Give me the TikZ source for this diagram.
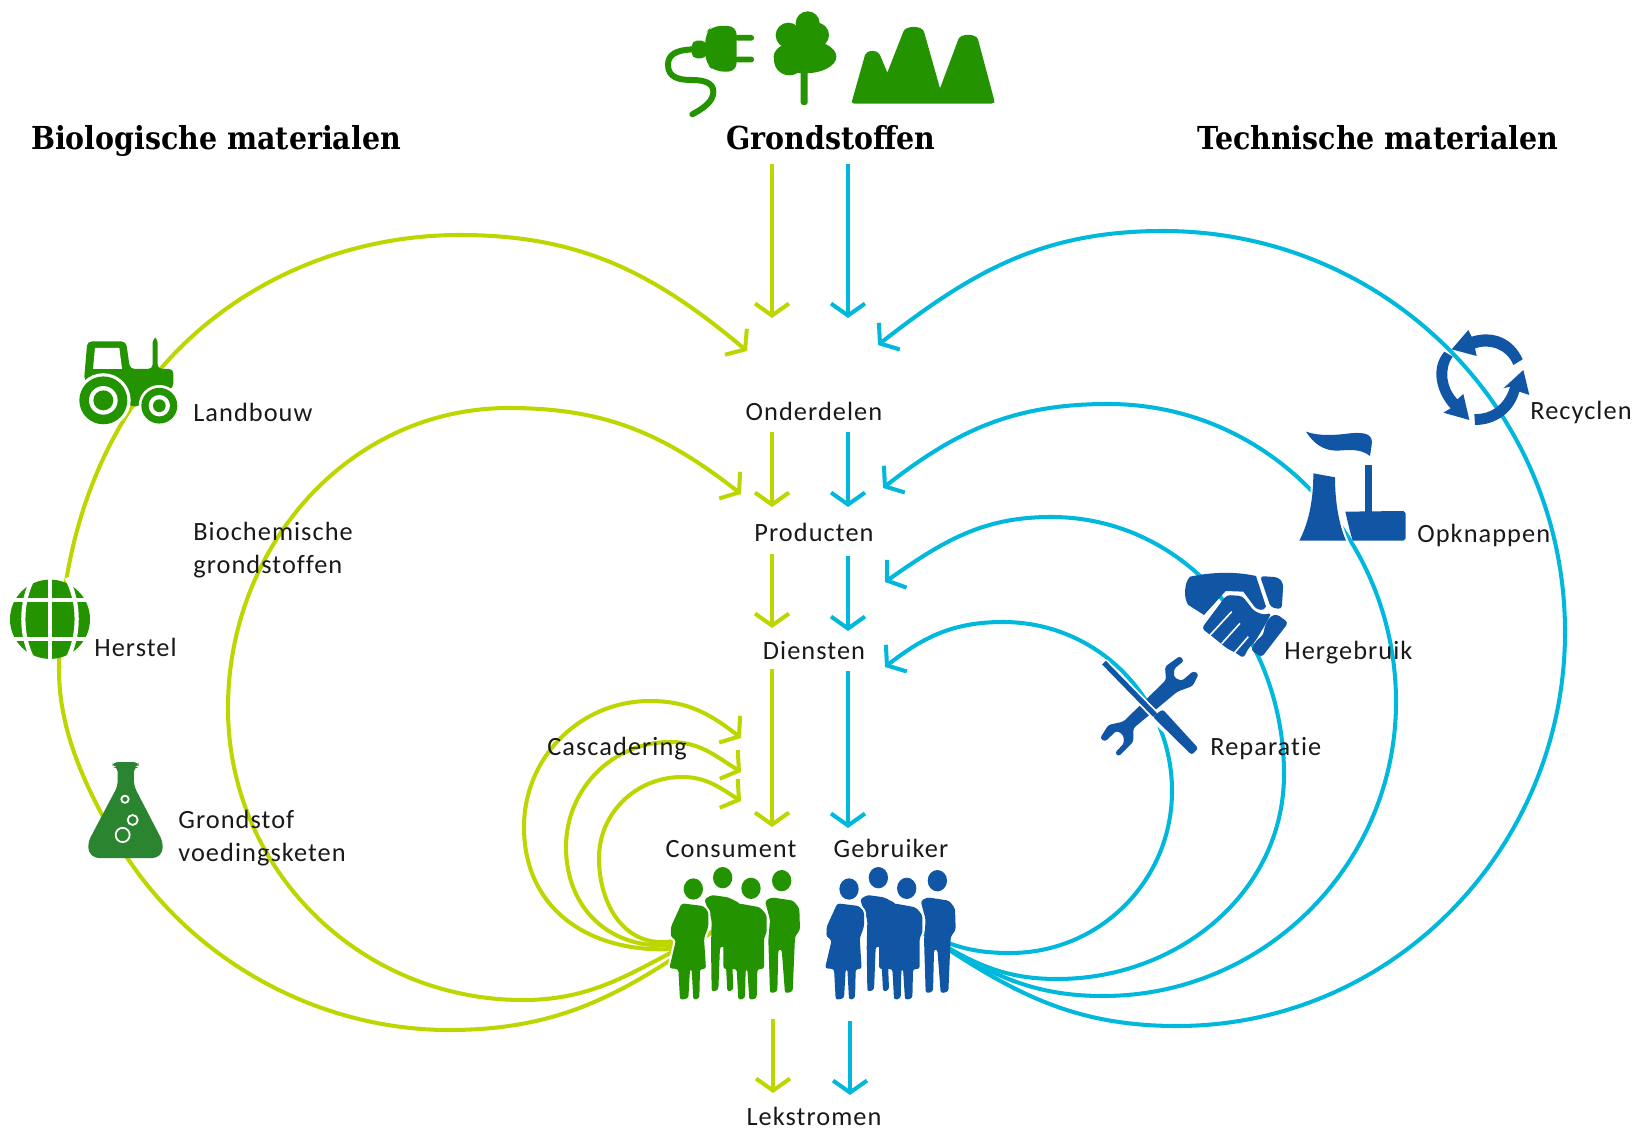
\documentclass[tikz,border=0pt]{standalone}
\usepackage{fontspec}
\usepackage{xcolor}
\usepackage{tikz}
\newfontfamily\labelfont{Carlito}[LetterSpace=4,Ligatures=NoCommon]
\newfontfamily\headfont{DejaVu Serif Condensed}
\definecolor{BioLine}{rgb}{0.74,0.84,0}
\definecolor{TechLine}{rgb}{0,0.72,0.86}
\definecolor{IconGreen}{rgb}{0.137,0.576,0}
\definecolor{IconBlue}{rgb}{0.067,0.333,0.647}
\definecolor{FlaskGreen}{rgb}{0.17,0.52,0.19}
\usetikzlibrary{arrows.meta}
\tikzset{
  flow/.style={line width=2.3pt,-{Straight Barb[length=6.8pt,width=19.3pt]}},
  bio/.style={flow,BioLine},
  tech/.style={flow,TechLine},
  title/.style={font=\headfont\bfseries\fontsize{18}{22}\selectfont,inner sep=0pt,anchor=base},
  lbl/.style={font=\labelfont\fontsize{15}{18.7}\selectfont,text=black!90,inner sep=0pt,align=left,anchor=base},
  lblw/.style={lbl,anchor=base west},
  halo/.style={preaction={draw=white,line width=2.4pt}},
}

\begin{document}
\begin{tikzpicture}[x=0.02cm,y=0.02cm]
\useasboundingbox (0,0) rectangle (1639,-1131);

\node[title] (biomat) at (216,-150) {Biologische materialen};
\node[title] (grond) at (831,-150) {Grondstoffen};
\node[title] (techmat) at (1378,-150) {Technische materialen};

\coordinate (bioA) at (772,-164); \coordinate (bioB) at (772,-318);
\coordinate (bioC) at (772,-432); \coordinate (bioD) at (772,-507);
\coordinate (bioE) at (772,-554); \coordinate (bioF) at (772,-628);
\coordinate (bioG) at (772,-669); \coordinate (bioH) at (772,-827);
\coordinate (bioI) at (773,-1019); \coordinate (bioJ) at (773,-1093);
\coordinate (techA) at (848,-164); \coordinate (techB) at (848,-318);
\coordinate (techC) at (848,-432); \coordinate (techD) at (848,-507);
\coordinate (techE) at (848,-556); \coordinate (techF) at (848,-631);
\coordinate (techG) at (848,-671); \coordinate (techH) at (848,-828);
\coordinate (techI) at (850,-1021); \coordinate (techJ) at (850,-1095);

\draw[bio] (bioA) -- (bioB);
\draw[bio] (bioC) -- (bioD);
\draw[bio] (bioE) -- (bioF);
\draw[bio] (bioG) -- (bioH);
\draw[bio] (bioI) -- (bioJ);
\draw[tech] (techA) -- (techB);
\draw[tech] (techC) -- (techD);
\draw[tech] (techE) -- (techF);
\draw[tech] (techG) -- (techH);
\draw[tech] (techI) -- (techJ);

\coordinate (bioStart) at (712,-932);
\coordinate (landBot) at (449,-1030);
\coordinate (landFlask) at (115,-838);
\coordinate (landLeft) at (59,-670);
\coordinate (landTractor) at (146,-387);
\coordinate (landTop) at (460,-235);
\coordinate (landEnd) at (747,-351);
\draw[bio] (bioStart) to [out=215,in=0] (landBot) to [out=180,in=-60,looseness=0.9] (landFlask) to [out=120,in=-90,looseness=0.87] (landLeft) to [out=90,in=233,looseness=0.87] (landTractor) to [out=53,in=180,looseness=0.9] (landTop) to [out=0,in=140] (landEnd);

\coordinate (chemBot) at (523,-1000);
\coordinate (chemLeft) at (228,-708);
\coordinate (chemTop) at (509,-408);
\coordinate (chemEnd) at (741,-494);
\draw[bio] (bioStart) to [out=205,in=0] (chemBot) to [out=180,in=-90] (chemLeft) to [out=90,in=180] (chemTop) to [out=0,in=142] (chemEnd);

\coordinate (casAStart) at (673,-949); \coordinate (casALeft) at (524,-827);
\coordinate (casATop) at (650,-701); \coordinate (casAEnd) at (741,-738);
\coordinate (casBStart) at (673,-945); \coordinate (casBLeft) at (566,-847);
\coordinate (casBTop) at (670,-742); \coordinate (casBEnd) at (741,-772);
\coordinate (casCStart) at (673,-941); \coordinate (casCLeft) at (599,-858);
\coordinate (casCTop) at (682,-777); \coordinate (casCEnd) at (741,-801);
\draw[bio] (casAStart) to [out=183,in=-90,looseness=1.1] (casALeft) to [out=90,in=180] (casATop) to [out=0,in=142] (casAEnd);
\draw[bio] (casBStart) to [out=185,in=-90,looseness=1.1] (casBLeft) to [out=90,in=180] (casBTop) to [out=0,in=148] (casBEnd);
\draw[bio] (casCStart) to [out=190,in=-90,looseness=1.1] (casCLeft) to [out=90,in=180] (casCTop) to [out=0,in=148] (casCEnd);

\coordinate (techStart) at (922,-932);
\coordinate (repBot) at (1010,-953); \coordinate (repRight) at (1172,-791);
\coordinate (repTop) at (1003,-622); \coordinate (repEnd) at (885,-667);
\coordinate (hergBot) at (1057,-979); \coordinate (hergRight) at (1284,-774);
\coordinate (hergTop) at (1051,-517); \coordinate (hergEnd) at (885,-582);
\coordinate (opkBot) at (1103,-996); \coordinate (opkRight) at (1396,-702);
\coordinate (opkTop) at (1108,-404); \coordinate (opkEnd) at (883,-488);
\coordinate (recBot) at (1177,-1026); \coordinate (recRight) at (1565,-632);
\coordinate (recTop) at (1163,-231); \coordinate (recEnd) at (878,-345);
\draw[tech] (techStart) to [out=-25,in=180] (repBot) to [out=0,in=-90] (repRight) to [out=90,in=0] (repTop) to [out=180,in=38] (repEnd);
\draw[tech] (techStart) to [out=-32,in=180] (hergBot) to [out=0,in=-90] (hergRight) to [out=90,in=0] (hergTop) to [out=180,in=35] (hergEnd);
\draw[tech] (techStart) to [out=-32,in=180] (opkBot) to [out=0,in=-90] (opkRight) to [out=90,in=0] (opkTop) to [out=180,in=38] (opkEnd);
\draw[tech] (techStart) to [out=-34,in=180] (recBot) to [out=0,in=-90] (recRight) to [out=90,in=0] (recTop) to [out=180,in=38] (recEnd);

% grondstoffen
\begin{scope}[shift={(640,0)},scale=1/3,fill=IconGreen]
\draw[IconGreen,line width=3.4pt,line cap=round] (160,-148) .. controls (105,-150) and (84,-165) .. (84,-195) .. controls (84,-234) and (120,-240) .. (155,-240) .. controls (195,-240) and (220,-250) .. (220,-275) .. controls (220,-305) and (190,-325) .. (157,-343);
\fill[rounded corners=3pt] (155,-122) -- (200,-122) -- (200,-175) -- (155,-175) -- cycle;
\fill[rounded corners=5pt] (196,-100) -- (215,-78) -- (290,-78) -- (290,-215) -- (225,-215) -- (196,-190) -- cycle;
\fill[rounded corners=1.5pt] (285,-105) -- (342,-105) -- (342,-122) -- (285,-122) -- cycle;
\fill[rounded corners=1.5pt] (285,-170) -- (342,-170) -- (342,-187) -- (285,-187) -- cycle;
\fill[rounded corners=1.5pt] (482,-200) -- (503,-200) -- (503,-315) -- (482,-315) -- cycle;
\fill (503,-70) circle [radius=36];
\fill (445,-106) circle [radius=38];
\fill (530,-105) circle [radius=37];
\fill (490,-130) circle [radius=40];
\fill (495,-170) ellipse [x radius=94,y radius=50];
\fill (448,-180) circle [radius=46];
\fill (636,-303) -- (675,-165) .. controls (680,-148) and (714,-148) .. (720,-165) -- (742,-218) -- (790,-95) .. controls (796,-76) and (846,-76) .. (852,-95) -- (900,-265) -- (955,-118) .. controls (961,-100) and (1008,-100) .. (1014,-118) -- (1062,-298) .. controls (1066,-308) and (1060,-311) .. (1054,-311) -- (645,-311) .. controls (638,-311) and (634,-309) .. (636,-303) -- cycle;
\end{scope}

% tractor, wereldbol, kolf
\begin{scope}[shift={(0,-320)},xscale=1/3,yscale=1/2.8,fill=IconGreen]
\fill[rounded corners=2.5pt] (252,-170) -- (262,-60) -- (378,-60) -- (390,-137) -- (458,-137) -- (458,-50) -- (473,-50) -- (473,-137) -- (520,-137) -- (520,-190) -- (415,-242) -- (395,-242) -- cycle;
\fill[white] (285,-78) -- (358,-78) -- (366,-137) -- (279,-137) -- cycle;
\fill[white] (310,-225) ellipse [x radius=82,y radius=76];
\fill[white] (478,-240) ellipse [x radius=62,y radius=58];
\fill (310,-225) ellipse [x radius=72,y radius=67];
\fill[white] (310,-225) ellipse [x radius=43,y radius=40];
\fill (310,-225) ellipse [x radius=30,y radius=28];
\fill (478,-240) ellipse [x radius=54,y radius=50];
\fill[white] (478,-240) ellipse [x radius=32,y radius=30];
\fill (478,-240) ellipse [x radius=19,y radius=18];

\fill (150,-838) ellipse [x radius=120,y radius=111];
\draw[white,line width=2.4pt] (150,-720) -- (150,-955);
\draw[white,line width=2.4pt] (20,-783) -- (280,-783);
\draw[white,line width=2.4pt] (20,-893) -- (280,-893);
\draw[white,line width=2.4pt] (100,-722) .. controls (60,-790) and (60,-885) .. (100,-953);
\draw[white,line width=2.4pt] (200,-722) .. controls (240,-790) and (240,-885) .. (200,-953);

\fill[FlaskGreen,rounded corners=2.5pt] (338,-1238) -- (416,-1238) -- (416,-1252) -- (402,-1252) -- (402,-1305) -- (488,-1460) -- (488,-1490) -- (470,-1507) -- (285,-1507) -- (265,-1490) -- (265,-1460) -- (353,-1305) -- (353,-1252) -- (338,-1252) -- cycle;
\draw[white,line width=1pt] (375,-1342) ellipse [x radius=11,y radius=10];
\draw[white,line width=1pt] (398,-1400) ellipse [x radius=15,y radius=14];
\draw[white,line width=1pt] (368,-1442) ellipse [x radius=21,y radius=20];
\end{scope}

% consument en gebruiker
\foreach \groupx/\groupcol in {640/IconGreen,795.7/IconBlue} {
\begin{scope}[shift={(\groupx,-820)},scale=1/3,fill=\groupcol]
\fill (160,-207) ellipse [x radius=29,y radius=32];
\fill (248,-173) ellipse [x radius=29,y radius=32];
\fill (333,-205) ellipse [x radius=29,y radius=32];
\fill (425,-182) ellipse [x radius=29,y radius=32];
\fill[rounded corners=1.5pt] (375,-243) -- (395,-232) -- (460,-242) -- (478,-265) -- (480,-330) -- (465,-350) -- (458,-515) -- (435,-520) -- (425,-388) -- (415,-388) -- (412,-515) -- (390,-520) -- (385,-360) -- (390,-300) -- cycle;
\fill[halo,rounded corners=1.5pt] (295,-250) -- (360,-262) -- (380,-285) -- (380,-340) -- (372,-352) -- (372,-447) -- (352,-447) -- (350,-535) -- (328,-540) -- (322,-447) -- (317,-447) -- (315,-535) -- (295,-540) -- (290,-447) -- (250,-447) -- (250,-300) -- cycle;
\fill[rounded corners=1.5pt] (193,-238) -- (215,-225) -- (265,-232) -- (300,-250) -- (300,-380) -- (275,-380) -- (280,-510) -- (262,-515) -- (255,-380) -- (240,-380) -- (235,-510) -- (215,-515) -- (213,-380) -- (215,-300) -- cycle;
\fill[halo,rounded corners=1.5pt] (125,-250) -- (190,-258) -- (205,-275) -- (205,-320) -- (192,-355) -- (198,-447) -- (180,-447) -- (178,-535) -- (160,-540) -- (155,-447) -- (150,-447) -- (145,-535) -- (120,-540) -- (115,-447) -- (88,-445) -- (108,-360) -- (92,-350) -- (93,-320) -- cycle;
\end{scope}
}

% recyclen, opknappen, hergebruik, reparatie
\begin{scope}[shift={(1080,-320)},scale=1/3,fill=IconBlue]
\fill (1165,-30) -- (1115,-88) -- (1190,-108) -- (1185,-85) .. controls (1225,-70) and (1280,-85) .. (1300,-135) -- (1328,-118) .. controls (1300,-55) and (1240,-30) .. (1175,-50) -- cycle;
\fill (1270,-205) -- (1330,-150) -- (1348,-225) -- (1318,-215) .. controls (1300,-280) and (1245,-315) .. (1185,-315) -- (1183,-282) .. controls (1230,-285) and (1275,-255) .. (1290,-200) -- cycle;
\fill (1168,-300) -- (1090,-278) -- (1112,-265) .. controls (1070,-220) and (1050,-145) .. (1093,-95) -- (1118,-110) .. controls (1090,-150) and (1100,-205) .. (1132,-238) -- (1150,-222) -- cycle;

\fill (678,-335) .. controls (720,-350) and (770,-345) .. (810,-340) .. controls (860,-335) and (880,-345) .. (875,-375) -- (870,-408) .. controls (840,-385) and (810,-390) .. (770,-392) .. controls (730,-392) and (700,-370) .. (678,-335);
\fill[halo] (700,-460) -- (765,-472) .. controls (765,-540) and (775,-610) .. (798,-662) -- (658,-662) .. controls (690,-600) and (700,-530) .. (700,-460);
\fill (856,-435) -- (876,-435) -- (876,-575) -- (856,-575) -- cycle;
\fill (796,-575) -- (970,-573) -- (977,-580) -- (977,-655) -- (970,-662) -- (818,-662) .. controls (808,-630) and (802,-600) .. (796,-575);

\fill (330,-770) .. controls (400,-755) and (470,-755) .. (528,-768) -- (558,-860) .. controls (550,-875) and (535,-870) .. (525,-862) -- (490,-815) -- (437,-813) -- (372,-885) -- (325,-855) .. controls (312,-840) and (310,-790) .. (330,-770);
\fill[rounded corners=2pt] (540,-768) -- (595,-772) -- (610,-790) -- (605,-868) -- (572,-862) -- cycle;
\fill[rounded corners=2pt] (440,-825) -- (487,-828) -- (522,-873) -- (552,-885) -- (575,-878) -- (555,-915) -- (525,-965) -- (505,-985) -- (490,-1015) -- (470,-1000) -- (440,-985) -- (410,-960) -- (365,-925) -- cycle;
\draw[white,line width=0.9pt] (455,-875) -- (385,-951);
\draw[white,line width=0.9pt] (480,-910) -- (425,-971);
\draw[white,line width=0.9pt] (505,-950) -- (462,-1000);
\fill[rounded corners=2pt] (590,-882) -- (625,-908) -- (545,-1012) -- (512,-990) -- (530,-960) -- (550,-945) -- (555,-915) -- (570,-890) -- cycle;

\fill[rounded corners=1.5pt] (300,-1008) -- (312,-1022) -- (282,-1047) -- (282,-1072) -- (305,-1083) -- (340,-1053) -- (356,-1062) -- (338,-1098) -- (292,-1115) -- (160,-1225) -- (160,-1265) -- (115,-1310) -- (105,-1298) -- (132,-1270) -- (130,-1245) -- (110,-1232) -- (75,-1265) -- (60,-1255) -- (85,-1215) -- (130,-1205) -- (258,-1080) -- (255,-1040) -- cycle;
\draw[white,line width=5pt] (72,-1028) -- (225,-1185);
\draw[white,line width=8pt] (225,-1185) -- (345,-1295);
\draw[IconBlue,line width=3pt] (72,-1028) -- (225,-1185);
\fill[rounded corners=1.5pt] (218,-1190) -- (248,-1168) -- (355,-1285) -- (335,-1305) -- cycle;
\end{scope}

\node[lblw] (landbouw) at (193,-422) {Landbouw};
\node[lbl,anchor=west] (biochem) at (193,-550) {Biochemische\\grondstoffen};
\node[lblw] (herstel) at (94,-656) {Herstel};
\node[lbl,anchor=west] (voeding) at (178,-838) {Grondstof\\voedingsketen};
\node[lblw] (cascade) at (547,-755) {Cascadering};
\node[lbl] (onderdelen) at (814,-421) {Onderdelen};
\node[lbl] (producten) at (814,-541) {Producten};
\node[lbl] (diensten) at (814,-659) {Diensten};
\node[lbl] (consument) at (731,-857) {Consument};
\node[lbl] (gebruiker) at (891,-857) {Gebruiker};
\node[lbl] (lekstromen) at (814,-1125) {Lekstromen};
\node[lblw] (recyclen) at (1530,-420) {Recyclen};
\node[lblw] (opknappen) at (1417,-542) {Opknappen};
\node[lblw] (hergebruik) at (1284,-659) {Hergebruik};
\node[lblw] (reparatie) at (1210,-755) {Reparatie};
\end{tikzpicture}
\end{document}
